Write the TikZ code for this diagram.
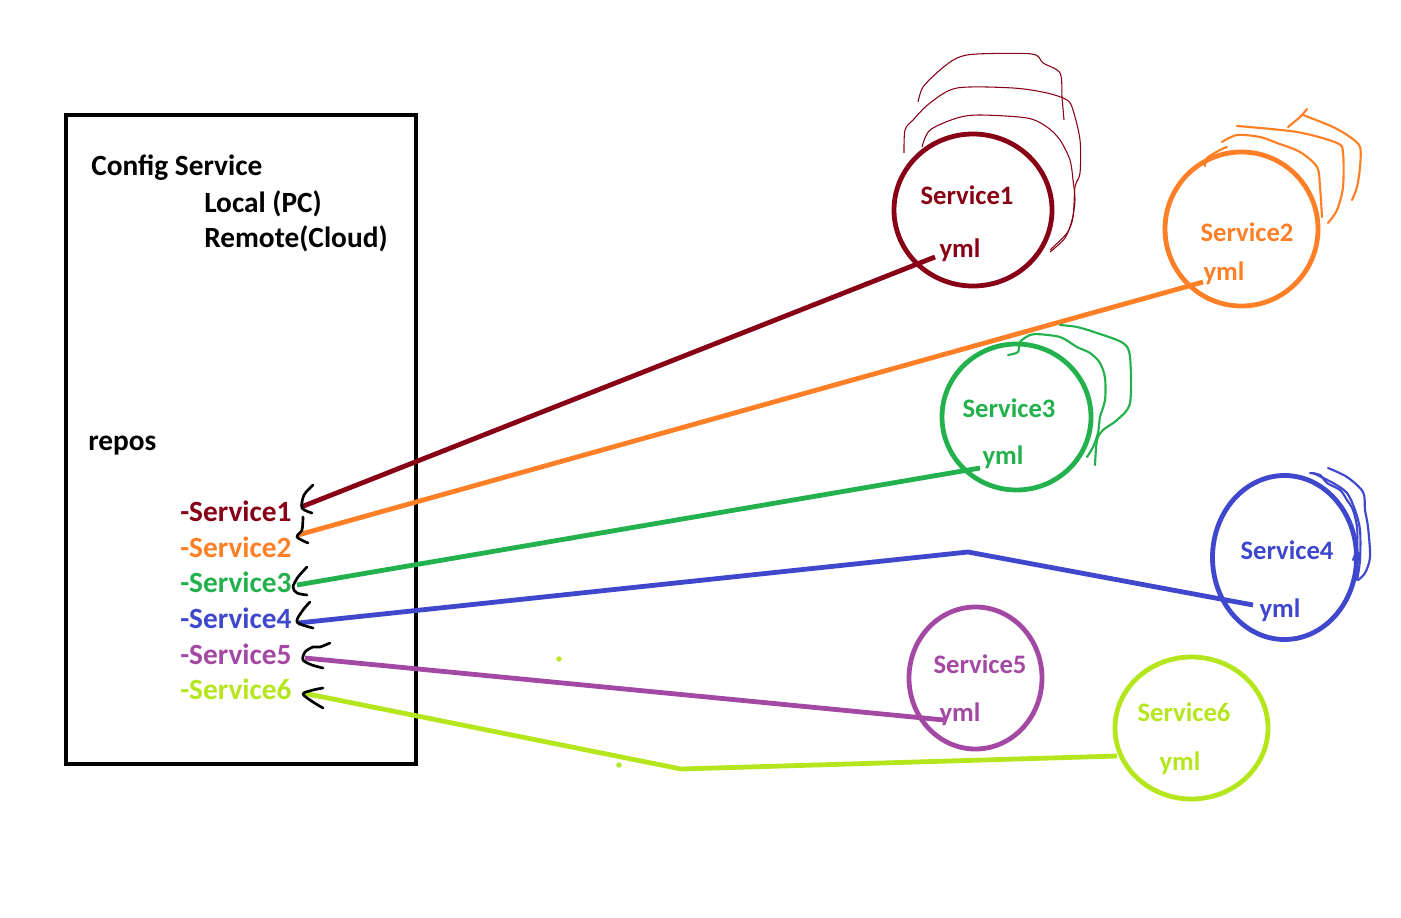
\documentclass[tikz,border=0pt]{standalone}
\usepackage{fontspec}
\setmainfont{Carlito}
\usetikzlibrary{shapes.geometric}
\definecolor{cDR}{HTML}{880015}
\definecolor{cOR}{HTML}{FF7F27}
\definecolor{cGR}{HTML}{22B14C}
\definecolor{cBL}{HTML}{3F48CC}
\definecolor{cPU}{HTML}{A349A4}
\definecolor{cLI}{HTML}{B5E61D}
\tikzset{
  bigtxt/.style={inner sep=0pt, anchor=base west, font=\fontsize{22pt}{26pt}\selectfont\bfseries},
  smalltxt/.style={inner sep=0pt, anchor=base, font=\fontsize{20pt}{24pt}\selectfont\bfseries},
  svc/.style={ellipse, draw, line width=3.6pt, inner sep=0pt},
  link/.style={line width=3.6pt},
  squig/.style={line width=2pt, black, line cap=round, line join=round},
  hand/.style={line width=1.6pt, line cap=round, line join=round},
}
\begin{document}
\begin{tikzpicture}[x=0.75pt, y=-0.75pt]
\useasboundingbox (0,0) rectangle (1401,917);
\fill[white] (0,0) rectangle (1401,917);
% main box
\node[draw, line width=3.6pt, minimum width=262.5pt, minimum height=486.75pt, inner sep=0pt] (box) at (241,439.5) {};
\node[bigtxt] (cfg) at (91,175) {Config Service};
\node[bigtxt] (loc) at (204,212) {Local (PC)};
\node[bigtxt] (rem) at (204,247) {Remote(Cloud)};
\node[bigtxt] (repos) at (88,450) {repos};
\node[bigtxt, text=cDR] (r1) at (180,521) {-Service1};
\node[bigtxt, text=cOR] (r2) at (180,557) {-Service2};
\node[bigtxt, text=cGR] (r3) at (180,592) {-Service3};
\node[bigtxt, text=cBL] (r4) at (180,628) {-Service4};
\node[bigtxt, text=cPU] (r5) at (180,664) {-Service5};
\node[bigtxt, text=cLI] (r6) at (180,699) {-Service6};
% service circles
\node[svc, draw=cDR, minimum width=118.5pt, minimum height=114pt] (c1) at (973,210) {};
\node[svc, draw=cOR, minimum width=114.75pt, minimum height=115.5pt] (c2) at (1241.5,229) {};
\node[svc, draw=cGR, minimum width=111.75pt, minimum height=109.5pt] (c3) at (1016.5,417) {};
\node[svc, draw=cBL, minimum width=108pt, minimum height=123pt] (c4) at (1284.5,557.5) {};
\node[svc, draw=cPU, minimum width=99.75pt, minimum height=106.5pt] (c5) at (975.5,678) {};
\node[svc, draw=cLI, minimum width=114.75pt, minimum height=106.5pt] (c6) at (1191.5,728) {};
\node[smalltxt, text=cDR] (s1) at (967,204) {Service1};
\node[smalltxt, text=cDR] (y1) at (960,257) {yml};
\node[smalltxt, text=cOR] (s2) at (1247,241) {Service2};
\node[smalltxt, text=cOR] (y2) at (1224,280) {yml};
\node[smalltxt, text=cGR] (s3) at (1009,417) {Service3};
\node[smalltxt, text=cGR] (y3) at (1003,464) {yml};
\node[smalltxt, text=cBL] (s4) at (1287,559) {Service4};
\node[smalltxt, text=cBL] (y4) at (1280,617) {yml};
\node[smalltxt, text=cPU] (s5) at (980,673) {Service5};
\node[smalltxt, text=cPU] (y5) at (960,721) {yml};
\node[smalltxt, text=cLI] (s6) at (1184,721) {Service6};
\node[smalltxt, text=cLI] (y6) at (1180,770) {yml};
% connector ends
\coordinate (a1) at (301,507);  \coordinate (b1) at (935,257);
\coordinate (a2) at (298,535);  \coordinate (b2) at (1203,282);
\coordinate (a3) at (297,585);  \coordinate (b3) at (980,468);
\coordinate (a4) at (298,623);  \coordinate (k4) at (968,552); \coordinate (b4) at (1253,605);
\coordinate (a5) at (305,658);  \coordinate (b5) at (944,720);
\coordinate (a6) at (303,693);  \coordinate (k6) at (681,769); \coordinate (b6) at (1117,756);
\draw[link, cDR] (a1) -- (b1);
\draw[link, cOR] (a2) -- (b2);
\draw[link, cGR] (a3) -- (b3);
\draw[link, cBL] (a4) -- (k4) -- (b4);
\draw[link, cPU] (a5) -- (b5);
\draw[link, cLI] (a6) -- (k6) -- (b6);
% hand-drawn arrow heads
\draw[squig] plot[smooth] coordinates {(313,485) (304,495) (302,508) (312,513)};
\draw[squig] plot[smooth] coordinates {(303,517) (302,530) (297,537) (308,543)};
\draw[squig] plot[smooth] coordinates {(307,567) (298,577) (293,587) (297,593) (307,595)};
\draw[squig] plot[smooth] coordinates {(310,602) (303,610) (297,622) (313,628)};
\draw[squig] plot[smooth] coordinates {(330,643) (320,647) (313,647) (305,652) (303,660) (312,665) (323,668)};
\draw[squig] plot[smooth] coordinates {(323,688) (313,690) (303,694) (313,702) (323,708)};
% hand-drawn arcs service1 (thin)
\draw[cDR, line width=0.8pt] plot[smooth] coordinates {(918,102) (923,87) (940,70) (957,58) (977,54) (1032,54) (1043,63) (1060,73) (1062,97) (1064,120)};
\draw[cDR, line width=0.8pt] plot[smooth] coordinates {(904,153) (905,130) (913,120) (930,103) (957,88) (1013,88) (1047,93) (1067,100) (1073,110) (1080,140) (1080,173) (1075,187) (1073,217) (1067,233) (1050,250)};
\draw[cDR, line width=0.8pt] plot[smooth] coordinates {(922,147) (930,130) (957,118) (980,115) (1027,118) (1047,127) (1060,140) (1070,160) (1073,180) (1075,200) (1072,220) (1065,238) (1050,252)};
% arcs service2
\draw[hand, cOR] plot[smooth] coordinates {(1205,166) (1207,158) (1220,150) (1227,147)};
\draw[hand, cOR] plot[smooth] coordinates {(1222,142) (1237,135) (1260,137) (1277,143) (1300,152) (1317,167) (1320,187) (1322,217)};
\draw[hand, cOR] plot[smooth] coordinates {(1237,126) (1297,132) (1337,143) (1343,153) (1343,187) (1337,210) (1328,223)};
\draw[hand, cOR] plot[smooth] coordinates {(1288,127) (1300,117) (1307,109)};
\draw[hand, cOR] plot[smooth] coordinates {(1303,115) (1333,127) (1350,137) (1360,147) (1360,167) (1357,187) (1352,200)};
% arcs service3
\draw[hand, cGR] plot[smooth] coordinates {(1008,355) (1018,352) (1020,342) (1030,335) (1040,334)};
\draw[hand, cGR] plot[smooth] coordinates {(1037,334) (1060,337) (1077,347) (1090,353) (1100,363) (1105,378) (1105,400) (1100,417) (1098,433) (1093,447) (1087,457)};
\draw[hand, cGR] plot[smooth] coordinates {(1060,325) (1077,327) (1097,333) (1123,343) (1130,357) (1130,403) (1117,420) (1103,430) (1097,440) (1095,465)};
% arcs service4
\draw[hand, cBL] plot[smooth] coordinates {(1310,473) (1320,475) (1327,483) (1340,490) (1347,500) (1353,510) (1357,527) (1357,547) (1353,560)};
\draw[hand, cBL] plot[smooth] coordinates {(1313,473) (1333,483) (1347,493) (1355,510) (1360,530) (1360,560) (1357,580)};
\draw[hand, cBL] plot[smooth] coordinates {(1328,468) (1347,477) (1363,492) (1365,510) (1368,527) (1370,557) (1365,573) (1358,580)};
% stray dots
\fill[cLI] (559,659) circle (2pt);
\fill[cLI] (619,765) circle (2pt);
\end{tikzpicture}
\end{document}
